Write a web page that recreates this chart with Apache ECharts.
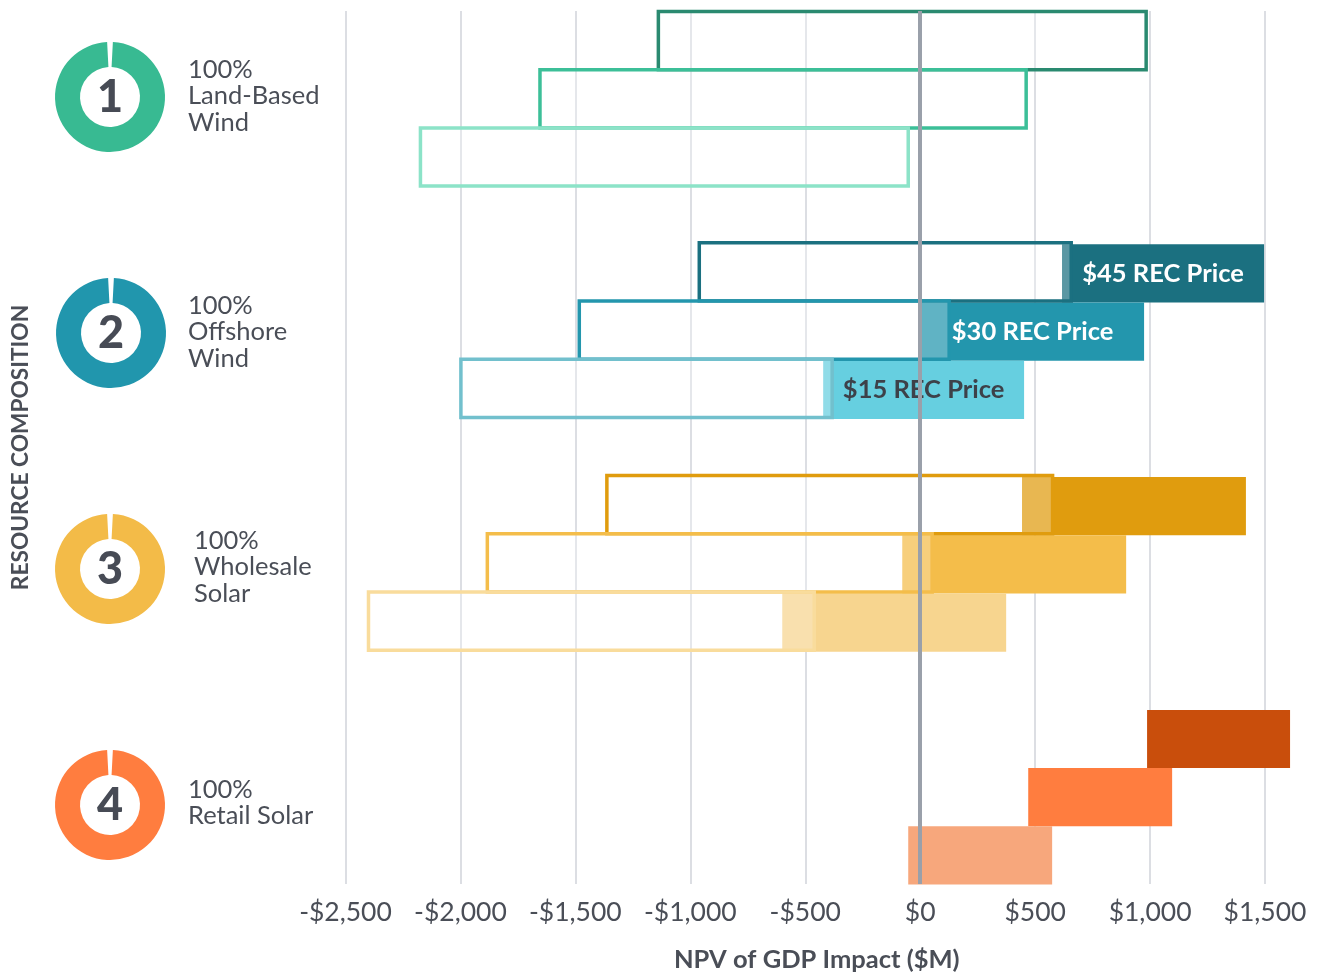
<!DOCTYPE html>
<html>
<head>
<meta charset="utf-8">
<title>NPV of GDP Impact</title>
<script src="https://cdn.jsdelivr.net/npm/echarts@6/dist/echarts.min.js"></script>
<style>
    html, body {margin: 0; padding: 0; background: #fff;}
    #main {width: 1317px; height: 972px;}
</style>
</head>
<body>
<div id="main"></div>
<script>
// 15 rows, top to bottom, an empty row between the resource groups
var rows = ['Land 45', 'Land 30', 'Land 15', '', 'Offshore 45', 'Offshore 30', 'Offshore 15', '',
    'Wholesale 45', 'Wholesale 30', 'Wholesale 15', '', 'Retail 45', 'Retail 30', 'Retail 15'];
var outlineLow = [-1139, -1654, -2174, null, -961, -1483, -1998, null, -1363, -1883, -2400, null, null, null, null];
var outlineHigh = [983, 461, -52, null, 657, 126, -383, null, 576, 52, -461, null, null, null, null];
var fillLow = [null, null, null, null, 617, 4, -422, null, 443, -78, -600, null, 987, 470, -52];
var fillHigh = [null, null, null, null, 1496, 974, 452, null, 1417, 896, 374, null, 1609, 1096, 574];
var priceLabels = ['', '', '', '', '$45 REC Price', '$30 REC Price', '$15 REC Price', '', '', '', '', '', '', '', ''];
var tickLabels = ['-$2,500', '-$2,000', '-$1,500', '-$1,000', '-$500', '$0', '$500', '$1,000', '$1,500'];
var donutNumbers = ['1', '2', '3', '4'];
var donutParts = [354, 6];
var resourceNames = ['100%\nLand-Based\nWind', '100%\nOffshore\nWind', '100%\nWholesale\nSolar', '100%\nRetail Solar'];

// colours
var outlineColors = ['#2a8a70', '#3cbf98', '#8ce3c8', '', '#1b7080', '#2396ad', '#72c0cd', '',
    '#e09c0e', '#f4bd4a', '#f9dc9c', '', '', '', ''];
var fillColors = ['', '', '', '', '#1b7080', '#2396ad', '#66cfe0', '',
    '#e09c0e', '#f4bd4a', '#f7d58f', '', '#c94e0c', '#ff7d3f', '#f7a77c'];
var labelColors = ['', '', '', '', '#fff', '#fff', '#3d4149', '', '', '', '', '', '', '', ''];
var donutColors = ['#38ba92', '#2196ad', '#f3bb48', '#ff7d3f'];

var fontName = 'Lato';
var textColor = '#4a4e57';
var donutCenters = [[110, 97], [111, 333], [110, 569], [110, 805]];
var nameSpots = [[188, 96], [188, 332], [194, 567], [188, 803]];

var rowIndex = rows.map(function (r, i) {
    return i;
});

function zip(a, b) {
    return rowIndex.map(function (i) {
        return [a[i], b[i], i];
    });
}

// filled range bar with its REC label
function drawFill(params, api) {
    var i = api.value(2);
    var start = api.coord([api.value(0), i]);
    var end = api.coord([api.value(1), i]);
    var h = api.size([0, 1])[1];
    return {
        type: 'group',
        children: [{
            type: 'rect',
            shape: {x: start[0], y: start[1] - h / 2 + 0.5, width: end[0] - start[0], height: h},
            style: {fill: fillColors[i]}
        }, {
            type: 'text',
            style: {
                x: (start[0] + end[0]) / 2,
                y: start[1] + 0.5,
                text: priceLabels[i],
                fill: labelColors[i],
                font: 'bold 25.5px ' + fontName,
                textAlign: 'center',
                textVerticalAlign: 'middle'
            }
        }]
    };
}

// hollow outline, see-through white so the fill reads paler where they overlap
function drawOutline(params, api) {
    var i = api.value(2);
    var start = api.coord([api.value(0), i]);
    var end = api.coord([api.value(1), i]);
    var h = api.size([0, 1])[1];
    return {
        type: 'rect',
        shape: {x: start[0], y: start[1] - h / 2 - 1 + (i < 3 ? 1.5 : 0), width: end[0] - start[0], height: h},
        style: {fill: 'rgba(255,255,255,0.28)', stroke: outlineColors[i], lineWidth: 3.5}
    };
}

var series = [{
    type: 'custom',
    renderItem: drawFill,
    encode: {x: [0, 1], y: 2},
    data: zip(fillLow, fillHigh).filter(function (d) {
        return d[0] !== null;
    }),
    silent: true,
    z: 2
}, {
    type: 'custom',
    renderItem: drawOutline,
    encode: {x: [0, 1], y: 2},
    data: zip(outlineLow, outlineHigh).filter(function (d) {
        return d[0] !== null;
    }),
    silent: true,
    z: 3
}, {
    // zero line sits over the bars and labels
    type: 'line',
    data: [],
    silent: true,
    z: 5,
    markLine: {
        silent: true,
        symbol: 'none',
        label: {show: false},
        lineStyle: {color: '#9aa0aa', width: 4, type: 'solid'},
        z: 5,
        data: [{xAxis: 0}]
    }
}];

donutNumbers.forEach(function (num, k) {
    series.push({
        type: 'pie',
        center: donutCenters[k],
        radius: [30, 55],
        startAngle: 87,
        silent: true,
        data: [{
            value: donutParts[0],
            itemStyle: {color: donutColors[k]},
            label: {
                show: true,
                position: 'center',
                formatter: num,
                color: '#474b55',
                fontFamily: fontName,
                fontWeight: 900,
                fontSize: 45
            },
            labelLine: {show: false}
        }, {
            value: donutParts[1],
            itemStyle: {color: 'rgba(255,255,255,0)'},
            label: {show: false},
            labelLine: {show: false}
        }]
    });
});

var option = {
    animation: false,
    backgroundColor: '#fff',
    grid: {left: 345.5, top: 11, width: 919.5, height: 873, outerBoundsMode: 'none'},
    xAxis: {
        type: 'value',
        min: -2500,
        max: 1500,
        interval: 500,
        name: 'NPV of GDP Impact ($M)',
        nameLocation: 'middle',
        nameGap: 63,
        nameTextStyle: {
            color: textColor,
            fontFamily: fontName,
            fontWeight: 'bold',
            fontSize: 25.5,
            padding: [0, 0, 0, 23]
        },
        axisLine: {show: false},
        axisTick: {show: false},
        axisLabel: {
            color: textColor,
            fontFamily: fontName,
            fontSize: 26.5,
            margin: 15,
            formatter: function (v) {
                return tickLabels[(v + 2500) / 500];
            }
        },
        splitLine: {show: true, lineStyle: {color: '#dcdee3', width: 2}}
    },
    yAxis: {
        type: 'category',
        data: rows,
        inverse: true,
        name: 'RESOURCE COMPOSITION',
        nameLocation: 'middle',
        nameGap: 313,
        nameTextStyle: {
            color: textColor,
            fontFamily: fontName,
            fontWeight: 'bold',
            fontSize: 22.7
        },
        axisLine: {show: false},
        axisTick: {show: false},
        axisLabel: {show: false},
        splitLine: {show: false}
    },
    graphic: resourceNames.map(function (txt, k) {
        return {
            type: 'text',
            x: nameSpots[k][0],
            y: nameSpots[k][1],
            silent: true,
            style: {
                text: txt,
                fill: textColor,
                font: '25.5px ' + fontName,
                lineHeight: 26.5,
                textAlign: 'left',
                textVerticalAlign: 'middle'
            }
        };
    }),
    series: series
};

var myChart = echarts.init(document.getElementById('main'), null, {renderer: 'canvas'});
myChart.setOption(option);
</script>
</body>
</html>
